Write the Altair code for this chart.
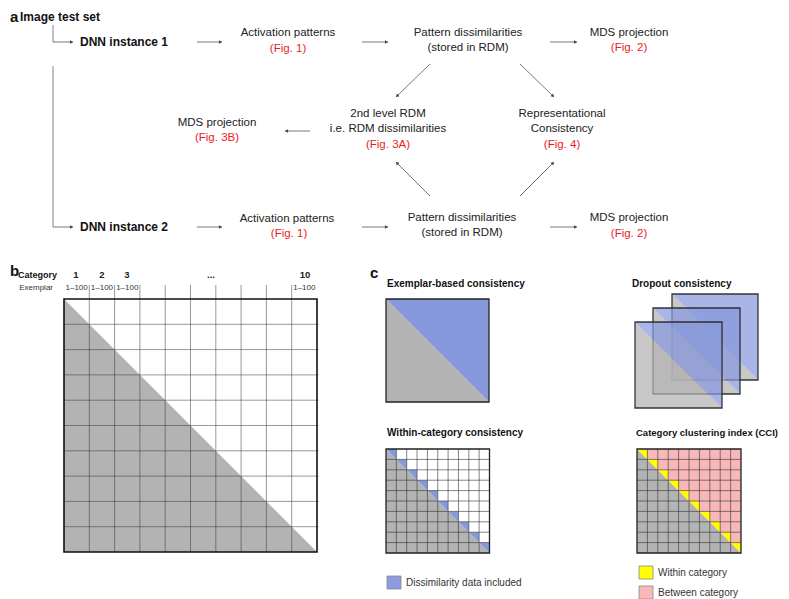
import math
import altair as alt
import pandas as pd

# ---------------- data ----------------
# Panel a: flow-chart labels
a_head_text = ["Image test set", "DNN instance 1", "DNN instance 2"]
a_head_x = [20, 80, 80]
a_head_y = [17, 42, 227]

a_node_text = ["Activation patterns", "Pattern dissimilarities", "(stored in RDM)", "MDS projection",
               "2nd level RDM", "i.e. RDM dissimilarities", "Representational", "Consistency",
               "MDS projection",
               "Activation patterns", "Pattern dissimilarities", "(stored in RDM)", "MDS projection"]
a_node_x = [288, 468, 468, 629, 388, 388, 562, 562, 217, 287, 462, 462, 629]
a_node_y = [33, 33, 48, 33, 114, 129, 114, 129, 123, 219, 218, 233, 218]

a_ref_text = ["(Fig. 1)", "(Fig. 2)", "(Fig. 3A)", "(Fig. 4)", "(Fig. 3B)", "(Fig. 1)", "(Fig. 2)"]
a_ref_x = [288, 629, 388, 562, 217, 289, 629]
a_ref_y = [49, 48, 145, 145, 138, 234, 234]

# plain connector lines
line_x1 = [53, 53]
line_y1 = [25, 66]
line_x2 = [53, 53]
line_y2 = [42, 227]

# arrows (tail -> head)
arr_x1 = [53, 197, 362, 550, 430, 520, 310, 430, 520, 53, 197, 362, 550]
arr_y1 = [42, 42, 42, 42, 64, 64, 131, 196, 196, 227, 227, 227, 227]
arr_x2 = [73, 222, 388, 577, 396, 554, 285, 396, 554, 73, 222, 388, 577]
arr_y2 = [42, 42, 42, 42, 97, 97, 131, 162, 162, 227, 227, 227, 227]

# Panel letters
letters = ["a", "b", "c"]
letter_x = [10, 10, 370]
letter_y = [17, 271, 273]

# Panel b: RDM layout
b_categories = ["1", "2", "3", "...", "10"]
b_category_x = [76, 102, 127, 211, 305]
b_exemplar_cols = [0, 1, 2, 9]
b_exemplar_label = "1–100"
n_cells = 10
b_box = (64, 317, 299, 552)

# Panel c
c_titles = ["Exemplar-based consistency", "Dropout consistency",
            "Within-category consistency"]
c_title_x = [387, 632, 387]
c_title_y = [284, 284, 433]
cci_title = "Category clustering index (CCI)"

exemplar_box = (386, 489, 299, 402)
dropout_boxes = [(672, 758, 294, 380), (653, 740, 308, 394), (635, 722, 322, 408)]
within_box = (386, 489.5, 449, 553)
cci_box = (637, 741, 449, 553)

legend_labels = ["Dissimilarity data included", "Within category", "Between category"]
legend_colors = ["#8a9be0", "#ffff00", "#f8b8ba"]
legend_box_x = [387, 639, 639]
legend_box_y = [576, 566, 586]

GRAY = "#b3b3b3"
BLUE = "#8799dd"
PINK = "#f8b8ba"
YELLOW = "#ffff00"
RED = "#ea1c24"
INK = "#222222"

# ---------------- scales ----------------
W, H = 773, 591
X0, Y0 = 8, 8
xs = alt.Scale(domain=[X0, X0 + W], nice=False, zero=False)
ys = alt.Scale(domain=[Y0, Y0 + H], nice=False, zero=False, reverse=True)
FONT = "Liberation Sans"


def X(f="x"):
    return alt.X(f"{f}:Q", scale=xs, axis=None)


def Y(f="y"):
    return alt.Y(f"{f}:Q", scale=ys, axis=None, stack=None)


def text_layer(texts, xs_, ys_, size, weight="normal", align="center", color=INK):
    df = pd.DataFrame({"t": texts, "x": xs_, "y": ys_})
    return alt.Chart(df).mark_text(fontSize=size, fontWeight=weight, align=align,
                                   baseline="middle", color=color, font=FONT).encode(
        x=X(), y=Y(), text="t:N")


def rule_layer(rows, color, width=1.0, opacity=1.0):
    df = pd.DataFrame(rows, columns=["x", "y", "x2", "y2"])
    return alt.Chart(df).mark_rule(color=color, strokeWidth=width, opacity=opacity).encode(
        x=X(), y=Y(), x2=alt.X2("x2:Q"), y2=alt.Y2("y2:Q"))


def tri_rows(box, kind, gid):
    x0, x1, y0, y1 = box
    if kind == "lower":
        return [(gid, x0, y0, y1), (gid, x1, y1, y1)]
    return [(gid, x0, y0, y0), (gid, x1, y0, y1)]


def area_layer(rows, color, opacity=1.0):
    df = pd.DataFrame(rows, columns=["id", "x", "y", "y2"])
    return alt.Chart(df).mark_area(color=color, opacity=opacity, interpolate="linear",
                                   orient="vertical").encode(
        x=X(), y=Y(), y2=alt.Y2("y2:Q"), detail="id:N")


def border_layer(boxes, color="#222222", width=1.2, opacity=1.0):
    df = pd.DataFrame(boxes, columns=["x", "x2", "y", "y2"])
    return alt.Chart(df).mark_rect(filled=False, stroke=color, strokeWidth=width,
                                   strokeOpacity=opacity).encode(
        x=X(), x2=alt.X2("x2:Q"), y=Y(), y2=alt.Y2("y2:Q"))


def rect_layer(boxes, colors, stroke="#888888"):
    df = pd.DataFrame(boxes, columns=["x", "x2", "y", "y2"])
    df["c"] = colors
    return alt.Chart(df).mark_rect(stroke=stroke, strokeWidth=0.8).encode(
        x=X(), x2=alt.X2("x2:Q"), y=Y(), y2=alt.Y2("y2:Q"),
        color=alt.Color("c:N", scale=None))


def grid_rows(box, n, extend_top=0.0, extend_right=0.0):
    x0, x1, y0, y1 = box
    cw = (x1 - x0) / n
    ch = (y1 - y0) / n
    rows = []
    for k in range(1, n):
        rows.append((x0 + k * cw, y0 - extend_top, x0 + k * cw, y1))
        rows.append((x0, y0 + k * ch, x1 + extend_right, y0 + k * ch))
    return rows


def diag_cells(box, n):
    x0, x1, y0, y1 = box
    cw = (x1 - x0) / n
    ch = (y1 - y0) / n
    rows = []
    for i in range(n):
        rows += tri_rows((x0 + i * cw, x0 + (i + 1) * cw, y0 + i * ch, y0 + (i + 1) * ch),
                         "upper", f"d{i}")
    return rows


layers = []

# ---------------- panel a ----------------
layers.append(rule_layer(list(zip(line_x1, line_y1, line_x2, line_y2)), "#777777", 0.9))
layers.append(rule_layer(list(zip(arr_x1, arr_y1, arr_x2, arr_y2)), "#555555", 0.8))
heads = []
for x1, y1, x2, y2 in zip(arr_x1, arr_y1, arr_x2, arr_y2):
    dx, dy = x2 - x1, y2 - y1
    L = math.hypot(dx, dy)
    ang = math.degrees(math.atan2(dx, -dy)) % 360
    heads.append({"x": x2 - 2 * dx / L, "y": y2 - 2 * dy / L, "ang": ang})
layers.append(alt.Chart(pd.DataFrame(heads)).mark_point(
    shape="triangle", filled=True, size=14, color="#444444", opacity=1).encode(
    x=X(), y=Y(), angle=alt.Angle("ang:Q", scale=None)))

layers.append(text_layer(a_head_text, a_head_x, a_head_y, 12, "bold", "left", "#111111"))
layers.append(text_layer(a_node_text, a_node_x, a_node_y, 11.5))
layers.append(text_layer(a_ref_text, a_ref_x, a_ref_y, 11.5, color=RED))
layers.append(text_layer(letters, letter_x, letter_y, 15, "bold", "left", "#111111"))

# ---------------- panel b ----------------
bx0, bx1, by0, by1 = b_box
bcw = (bx1 - bx0) / n_cells
layers.append(area_layer(tri_rows(b_box, "lower", "b"), GRAY))
layers.append(rule_layer(grid_rows(b_box, n_cells, extend_top=14, extend_right=1.5), "#333333", 1.0, 0.5))
layers.append(border_layer([b_box], "#111111", 1.6))
layers.append(text_layer(["Category"], [57], [275], 9, "bold", "right", "#111111"))
layers.append(text_layer(b_categories, b_category_x, [275] * len(b_categories), 9.5, "bold"))
layers.append(text_layer(["Exemplar"], [53], [288], 8, align="right", color="#333333"))
layers.append(text_layer([b_exemplar_label] * len(b_exemplar_cols),
                         [bx0 + (c + 0.5) * bcw for c in b_exemplar_cols],
                         [288] * len(b_exemplar_cols), 8, color="#333333"))

# ---------------- panel c ----------------
layers.append(text_layer(c_titles, c_title_x, c_title_y, 10, "bold", "left", "#111111"))
layers.append(text_layer([cci_title], [636], [433], 9.5, "bold", "left", "#111111"))

# exemplar-based
layers.append(area_layer(tri_rows(exemplar_box, "lower", "e"), GRAY))
layers.append(area_layer(tri_rows(exemplar_box, "upper", "e"), BLUE))
layers.append(border_layer([exemplar_box], "#222222", 1.3))

# dropout (back to front)
for i, box in enumerate(dropout_boxes):
    layers.append(area_layer(tri_rows(box, "lower", f"g{i}"), GRAY, 0.72))
    layers.append(area_layer(tri_rows(box, "upper", f"u{i}"), BLUE, 0.72))
    layers.append(border_layer([box], "#222222", 1.3, 0.9))

# within-category
layers.append(area_layer(tri_rows(within_box, "lower", "w"), GRAY))
layers.append(area_layer(diag_cells(within_box, n_cells), BLUE))
layers.append(rule_layer(grid_rows(within_box, n_cells), "#333333", 0.8, 0.75))
layers.append(border_layer([within_box], "#222222", 1.3))

# CCI
layers.append(area_layer(tri_rows(cci_box, "lower", "cg"), GRAY))
layers.append(area_layer(tri_rows(cci_box, "upper", "cp"), PINK))
layers.append(area_layer(diag_cells(cci_box, n_cells), YELLOW))
layers.append(rule_layer(grid_rows(cci_box, n_cells), "#333333", 0.8, 0.75))
layers.append(border_layer([cci_box], "#222222", 1.3))

# legends
layers.append(rect_layer([(x, x + 14, y, y + 13) for x, y in zip(legend_box_x, legend_box_y)],
                         legend_colors))
layers.append(text_layer(legend_labels, [x + 19 for x in legend_box_x],
                         [y + 7 for y in legend_box_y], 10, align="left", color="#333333"))

chart = alt.layer(*layers).properties(
    width=W, height=H, padding=0, autosize=alt.AutoSizeParams(type="none")
).configure_view(stroke=None)

chart.save("out.html", embed_options={"renderer": "svg", "actions": False})
